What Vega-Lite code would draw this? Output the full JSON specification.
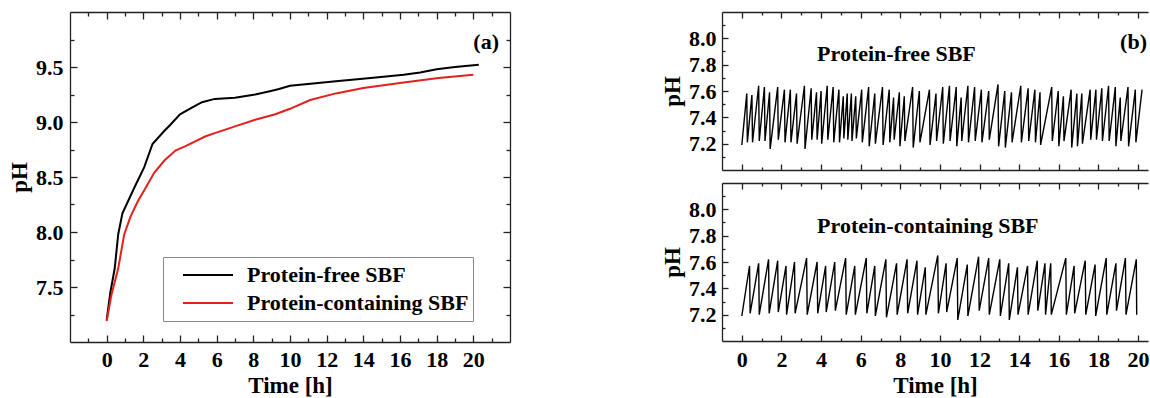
{
  "$schema": "https://vega.github.io/schema/vega-lite/v6.json",
  "padding": {"left": 8, "top": 11, "right": 0, "bottom": 0},
  "datasets": {
    "left": [
      {"series": "Protein-free SBF", "t": 0, "pH": 7.2},
      {"series": "Protein-free SBF", "t": 0.2, "pH": 7.45},
      {"series": "Protein-free SBF", "t": 0.44, "pH": 7.67},
      {"series": "Protein-free SBF", "t": 0.63, "pH": 7.98},
      {"series": "Protein-free SBF", "t": 0.86, "pH": 8.17},
      {"series": "Protein-free SBF", "t": 1.5, "pH": 8.4},
      {"series": "Protein-free SBF", "t": 2.05, "pH": 8.59},
      {"series": "Protein-free SBF", "t": 2.5, "pH": 8.8},
      {"series": "Protein-free SBF", "t": 3.15, "pH": 8.92},
      {"series": "Protein-free SBF", "t": 3.45, "pH": 8.97},
      {"series": "Protein-free SBF", "t": 4.0, "pH": 9.07},
      {"series": "Protein-free SBF", "t": 4.65, "pH": 9.13},
      {"series": "Protein-free SBF", "t": 5.2, "pH": 9.18},
      {"series": "Protein-free SBF", "t": 5.9, "pH": 9.21},
      {"series": "Protein-free SBF", "t": 7.0, "pH": 9.22},
      {"series": "Protein-free SBF", "t": 8.1, "pH": 9.25},
      {"series": "Protein-free SBF", "t": 8.9, "pH": 9.28},
      {"series": "Protein-free SBF", "t": 9.4, "pH": 9.3},
      {"series": "Protein-free SBF", "t": 10.0, "pH": 9.33},
      {"series": "Protein-free SBF", "t": 10.7, "pH": 9.34},
      {"series": "Protein-free SBF", "t": 12.5, "pH": 9.37},
      {"series": "Protein-free SBF", "t": 14.4, "pH": 9.4},
      {"series": "Protein-free SBF", "t": 16.2, "pH": 9.43},
      {"series": "Protein-free SBF", "t": 17.1, "pH": 9.45},
      {"series": "Protein-free SBF", "t": 18.0, "pH": 9.48},
      {"series": "Protein-free SBF", "t": 19.0, "pH": 9.5},
      {"series": "Protein-free SBF", "t": 20.3, "pH": 9.52},
      {"series": "Protein-containing SBF", "t": 0, "pH": 7.19},
      {"series": "Protein-containing SBF", "t": 0.25, "pH": 7.42},
      {"series": "Protein-containing SBF", "t": 0.63, "pH": 7.67},
      {"series": "Protein-containing SBF", "t": 0.96, "pH": 7.98},
      {"series": "Protein-containing SBF", "t": 1.3, "pH": 8.14},
      {"series": "Protein-containing SBF", "t": 1.7, "pH": 8.28},
      {"series": "Protein-containing SBF", "t": 2.05, "pH": 8.38},
      {"series": "Protein-containing SBF", "t": 2.6, "pH": 8.54},
      {"series": "Protein-containing SBF", "t": 3.15, "pH": 8.65},
      {"series": "Protein-containing SBF", "t": 3.75, "pH": 8.74},
      {"series": "Protein-containing SBF", "t": 4.3, "pH": 8.78},
      {"series": "Protein-containing SBF", "t": 5.4, "pH": 8.87},
      {"series": "Protein-containing SBF", "t": 6.1, "pH": 8.91},
      {"series": "Protein-containing SBF", "t": 7.0, "pH": 8.96},
      {"series": "Protein-containing SBF", "t": 8.1, "pH": 9.02},
      {"series": "Protein-containing SBF", "t": 9.2, "pH": 9.07},
      {"series": "Protein-containing SBF", "t": 10.0, "pH": 9.12},
      {"series": "Protein-containing SBF", "t": 11.1, "pH": 9.2},
      {"series": "Protein-containing SBF", "t": 12.5, "pH": 9.26},
      {"series": "Protein-containing SBF", "t": 14.0, "pH": 9.31},
      {"series": "Protein-containing SBF", "t": 16.2, "pH": 9.36},
      {"series": "Protein-containing SBF", "t": 18.1, "pH": 9.4},
      {"series": "Protein-containing SBF", "t": 20.0, "pH": 9.43}
    ],
    "free": [
      {"t": 0, "pH": 7.19},
      {"t": 0.25, "pH": 7.58}, {"t": 0.28, "pH": 7.21},
      {"t": 0.51, "pH": 7.57}, {"t": 0.54, "pH": 7.21},
      {"t": 0.85, "pH": 7.64}, {"t": 0.88, "pH": 7.22},
      {"t": 1.14, "pH": 7.63}, {"t": 1.17, "pH": 7.22},
      {"t": 1.40, "pH": 7.59}, {"t": 1.43, "pH": 7.16},
      {"t": 1.81, "pH": 7.63}, {"t": 1.84, "pH": 7.23},
      {"t": 2.15, "pH": 7.61}, {"t": 2.18, "pH": 7.21},
      {"t": 2.45, "pH": 7.61}, {"t": 2.48, "pH": 7.21},
      {"t": 2.76, "pH": 7.58}, {"t": 2.79, "pH": 7.20},
      {"t": 3.16, "pH": 7.64}, {"t": 3.19, "pH": 7.16},
      {"t": 3.50, "pH": 7.62}, {"t": 3.53, "pH": 7.23},
      {"t": 3.77, "pH": 7.59}, {"t": 3.80, "pH": 7.23},
      {"t": 4.00, "pH": 7.60}, {"t": 4.03, "pH": 7.20},
      {"t": 4.31, "pH": 7.64}, {"t": 4.34, "pH": 7.23},
      {"t": 4.61, "pH": 7.63}, {"t": 4.64, "pH": 7.21},
      {"t": 4.90, "pH": 7.61}, {"t": 4.93, "pH": 7.21},
      {"t": 5.12, "pH": 7.56}, {"t": 5.15, "pH": 7.24},
      {"t": 5.32, "pH": 7.58}, {"t": 5.35, "pH": 7.23},
      {"t": 5.53, "pH": 7.58}, {"t": 5.56, "pH": 7.22},
      {"t": 5.75, "pH": 7.56}, {"t": 5.78, "pH": 7.24},
      {"t": 6.05, "pH": 7.61}, {"t": 6.08, "pH": 7.21},
      {"t": 6.40, "pH": 7.63}, {"t": 6.43, "pH": 7.18},
      {"t": 6.71, "pH": 7.58}, {"t": 6.74, "pH": 7.20},
      {"t": 7.10, "pH": 7.63}, {"t": 7.13, "pH": 7.19},
      {"t": 7.44, "pH": 7.61}, {"t": 7.47, "pH": 7.21},
      {"t": 7.66, "pH": 7.55}, {"t": 7.69, "pH": 7.23},
      {"t": 7.95, "pH": 7.59}, {"t": 7.98, "pH": 7.18},
      {"t": 8.20, "pH": 7.56}, {"t": 8.23, "pH": 7.22},
      {"t": 8.62, "pH": 7.63}, {"t": 8.65, "pH": 7.17},
      {"t": 8.96, "pH": 7.60}, {"t": 8.99, "pH": 7.21},
      {"t": 9.47, "pH": 7.61}, {"t": 9.50, "pH": 7.19},
      {"t": 9.80, "pH": 7.58}, {"t": 9.83, "pH": 7.22},
      {"t": 10.14, "pH": 7.63}, {"t": 10.17, "pH": 7.20},
      {"t": 10.48, "pH": 7.64}, {"t": 10.51, "pH": 7.22},
      {"t": 10.82, "pH": 7.63}, {"t": 10.85, "pH": 7.18},
      {"t": 11.07, "pH": 7.55}, {"t": 11.10, "pH": 7.22},
      {"t": 11.41, "pH": 7.64}, {"t": 11.44, "pH": 7.21},
      {"t": 11.75, "pH": 7.63}, {"t": 11.78, "pH": 7.22},
      {"t": 12.09, "pH": 7.61}, {"t": 12.12, "pH": 7.21},
      {"t": 12.46, "pH": 7.60}, {"t": 12.49, "pH": 7.23},
      {"t": 12.93, "pH": 7.65}, {"t": 12.96, "pH": 7.18},
      {"t": 13.27, "pH": 7.60}, {"t": 13.30, "pH": 7.17},
      {"t": 13.61, "pH": 7.59}, {"t": 13.64, "pH": 7.21},
      {"t": 14.08, "pH": 7.64}, {"t": 14.11, "pH": 7.21},
      {"t": 14.45, "pH": 7.62}, {"t": 14.48, "pH": 7.22},
      {"t": 14.79, "pH": 7.61}, {"t": 14.82, "pH": 7.21},
      {"t": 15.05, "pH": 7.59}, {"t": 15.08, "pH": 7.19},
      {"t": 15.64, "pH": 7.63}, {"t": 15.67, "pH": 7.22},
      {"t": 15.97, "pH": 7.60}, {"t": 16.00, "pH": 7.18},
      {"t": 16.23, "pH": 7.56}, {"t": 16.26, "pH": 7.22},
      {"t": 16.62, "pH": 7.61}, {"t": 16.65, "pH": 7.17},
      {"t": 16.91, "pH": 7.58}, {"t": 16.94, "pH": 7.18},
      {"t": 17.16, "pH": 7.58}, {"t": 17.19, "pH": 7.20},
      {"t": 17.58, "pH": 7.61}, {"t": 17.61, "pH": 7.23},
      {"t": 17.87, "pH": 7.61}, {"t": 17.90, "pH": 7.23},
      {"t": 18.17, "pH": 7.62}, {"t": 18.20, "pH": 7.22},
      {"t": 18.51, "pH": 7.64}, {"t": 18.54, "pH": 7.22},
      {"t": 18.85, "pH": 7.63}, {"t": 18.88, "pH": 7.18},
      {"t": 19.10, "pH": 7.55}, {"t": 19.13, "pH": 7.22},
      {"t": 19.49, "pH": 7.63}, {"t": 19.52, "pH": 7.18},
      {"t": 19.86, "pH": 7.61}, {"t": 19.89, "pH": 7.21},
      {"t": 20.20, "pH": 7.61}
    ],
    "prot": [
      {"t": 0, "pH": 7.19},
      {"t": 0.39, "pH": 7.57}, {"t": 0.42, "pH": 7.21},
      {"t": 0.85, "pH": 7.59}, {"t": 0.88, "pH": 7.20},
      {"t": 1.35, "pH": 7.62}, {"t": 1.38, "pH": 7.21},
      {"t": 1.81, "pH": 7.61}, {"t": 1.84, "pH": 7.22},
      {"t": 2.23, "pH": 7.57}, {"t": 2.26, "pH": 7.20},
      {"t": 2.66, "pH": 7.60}, {"t": 2.69, "pH": 7.21},
      {"t": 3.27, "pH": 7.63}, {"t": 3.30, "pH": 7.20},
      {"t": 3.80, "pH": 7.60}, {"t": 3.83, "pH": 7.21},
      {"t": 4.23, "pH": 7.57}, {"t": 4.26, "pH": 7.22},
      {"t": 4.69, "pH": 7.60}, {"t": 4.72, "pH": 7.23},
      {"t": 5.24, "pH": 7.63}, {"t": 5.27, "pH": 7.20},
      {"t": 5.70, "pH": 7.57}, {"t": 5.73, "pH": 7.20},
      {"t": 6.28, "pH": 7.63}, {"t": 6.31, "pH": 7.21},
      {"t": 6.71, "pH": 7.57}, {"t": 6.74, "pH": 7.19},
      {"t": 7.27, "pH": 7.62}, {"t": 7.30, "pH": 7.18},
      {"t": 7.81, "pH": 7.59}, {"t": 7.84, "pH": 7.20},
      {"t": 8.34, "pH": 7.62}, {"t": 8.37, "pH": 7.21},
      {"t": 8.84, "pH": 7.61}, {"t": 8.87, "pH": 7.20},
      {"t": 9.26, "pH": 7.56}, {"t": 9.29, "pH": 7.20},
      {"t": 9.89, "pH": 7.65}, {"t": 9.92, "pH": 7.21},
      {"t": 10.31, "pH": 7.59}, {"t": 10.34, "pH": 7.22},
      {"t": 10.87, "pH": 7.63}, {"t": 10.90, "pH": 7.16},
      {"t": 11.38, "pH": 7.58}, {"t": 11.41, "pH": 7.19},
      {"t": 11.95, "pH": 7.64}, {"t": 11.98, "pH": 7.23},
      {"t": 12.46, "pH": 7.63}, {"t": 12.49, "pH": 7.20},
      {"t": 13.02, "pH": 7.62}, {"t": 13.05, "pH": 7.19},
      {"t": 13.47, "pH": 7.59}, {"t": 13.50, "pH": 7.16},
      {"t": 13.91, "pH": 7.56}, {"t": 13.94, "pH": 7.20},
      {"t": 14.42, "pH": 7.57}, {"t": 14.45, "pH": 7.20},
      {"t": 14.91, "pH": 7.61}, {"t": 14.94, "pH": 7.23},
      {"t": 15.30, "pH": 7.59}, {"t": 15.33, "pH": 7.20},
      {"t": 15.59, "pH": 7.59}, {"t": 15.62, "pH": 7.20},
      {"t": 16.35, "pH": 7.63}, {"t": 16.38, "pH": 7.20},
      {"t": 16.77, "pH": 7.57}, {"t": 16.80, "pH": 7.21},
      {"t": 17.33, "pH": 7.61}, {"t": 17.36, "pH": 7.20},
      {"t": 17.83, "pH": 7.58}, {"t": 17.86, "pH": 7.19},
      {"t": 18.39, "pH": 7.63}, {"t": 18.42, "pH": 7.20},
      {"t": 18.88, "pH": 7.59}, {"t": 18.91, "pH": 7.23},
      {"t": 19.36, "pH": 7.63}, {"t": 19.39, "pH": 7.20},
      {"t": 19.91, "pH": 7.62}, {"t": 19.93, "pH": 7.20}
    ],
    "one": [{"n": 1}]
  },
  "bounds": "flush",
  "spacing": 212,
  "hconcat": [
    {
      "width": 440,
      "height": 330,
      "data": {"name": "left"},
      "layer": [
        {
          "mark": {"type": "line", "strokeWidth": 2},
          "encoding": {
            "x": {"field": "t", "type": "quantitative", "scale": {"domain": [-2, 22], "nice": false, "zero": false},
              "axis": {"orient": "bottom", "values": [0, 2, 4, 6, 8, 10, 12, 14, 16, 18, 20], "tickSize": -7, "labelPadding": 14, "labelOverlap": false, "labelFlush": false, "title": "Time [h]", "titlePadding": 4}},
            "y": {"field": "pH", "type": "quantitative", "scale": {"domain": [7, 10], "nice": false, "zero": false},
              "axis": {"orient": "left", "values": [7.5, 8, 8.5, 9, 9.5], "format": ".1f", "tickSize": -7, "labelPadding": 14, "labelOverlap": false, "title": "pH", "titlePadding": 4}},
            "color": {"field": "series", "type": "nominal",
              "scale": {"domain": ["Protein-free SBF", "Protein-containing SBF"], "range": ["#000000", "#e3201b"]},
              "legend": {"orient": "none", "legendX": 93, "legendY": 245, "title": null, "symbolType": "stroke", "symbolSize": 2500, "symbolStrokeWidth": 2, "clipHeight": 28, "padding": 4, "rowPadding": 0, "symbolOffset": 15, "labelOffset": 13, "labelFontSize": 22, "labelFont": "Liberation Serif", "labelFontWeight": "bold", "labelColor": "black", "labelLimit": 400, "strokeColor": "#888888", "fillColor": "white"}}
          }
        },
        {
          "mark": {"type": "line", "opacity": 0},
          "encoding": {
            "x": {"field": "t", "type": "quantitative", "scale": {"domain": [-2, 22], "nice": false, "zero": false},
              "axis": {"orient": "top", "values": [0, 2, 4, 6, 8, 10, 12, 14, 16, 18, 20], "tickSize": -7, "labels": false, "title": null}},
            "y": {"field": "pH", "type": "quantitative", "scale": {"domain": [7, 10], "nice": false, "zero": false},
              "axis": {"orient": "right", "values": [7.5, 8, 8.5, 9, 9.5], "tickSize": -7, "labels": false, "title": null}}
          }
        },
        {
          "mark": {"type": "line", "opacity": 0},
          "encoding": {
            "x": {"field": "t", "type": "quantitative", "scale": {"domain": [-2, 22], "nice": false, "zero": false},
              "axis": {"orient": "bottom", "values": [-1, 1, 3, 5, 7, 9, 11, 13, 15, 17, 19, 21], "tickSize": -4, "labels": false, "domain": false, "title": null}},
            "y": {"field": "pH", "type": "quantitative", "scale": {"domain": [7, 10], "nice": false, "zero": false},
              "axis": {"orient": "left", "values": [7.25, 7.75, 8.25, 8.75, 9.25, 9.75], "tickSize": -4, "labels": false, "domain": false, "title": null}}
          }
        },
        {
          "mark": {"type": "line", "opacity": 0},
          "encoding": {
            "x": {"field": "t", "type": "quantitative", "scale": {"domain": [-2, 22], "nice": false, "zero": false},
              "axis": {"orient": "top", "values": [-1, 1, 3, 5, 7, 9, 11, 13, 15, 17, 19, 21], "tickSize": -4, "labels": false, "domain": false, "title": null}},
            "y": {"field": "pH", "type": "quantitative", "scale": {"domain": [7, 10], "nice": false, "zero": false},
              "axis": {"orient": "right", "values": [7.25, 7.75, 8.25, 8.75, 9.25, 9.75], "tickSize": -4, "labels": false, "domain": false, "title": null}}
          }
        },
        {
          "data": {"name": "one"},
          "mark": {"type": "text", "text": "(a)", "align": "left", "baseline": "middle", "fontSize": 22, "fontWeight": "bold", "font": "Liberation Serif", "color": "black"},
          "encoding": {
            "x": {"datum": 20.0, "type": "quantitative", "scale": {"domain": [-2, 22], "nice": false, "zero": false}, "axis": null},
            "y": {"datum": 9.725, "type": "quantitative", "scale": {"domain": [7, 10], "nice": false, "zero": false}, "axis": null}
          }
        }
      ],
      "resolve": {"axis": {"x": "independent", "y": "independent"}}
    },
    {
      "bounds": "flush",
      "spacing": 13,
      "vconcat": [
        {
          "width": 426,
          "height": 158,
          "data": {"name": "free"},
          "layer": [
            {
              "mark": {"type": "line", "color": "black", "strokeWidth": 1.4},
              "encoding": {
                "x": {"field": "t", "type": "quantitative", "scale": {"domain": [-1, 20.5], "nice": false, "zero": false},
                  "axis": {"orient": "bottom", "values": [0, 2, 4, 6, 8, 10, 12, 14, 16, 18, 20], "tickSize": -6, "labels": false, "title": null}},
                "y": {"field": "pH", "type": "quantitative", "scale": {"domain": [7.0, 8.2], "nice": false, "zero": false},
                  "axis": {"orient": "left", "values": [7.2, 7.4, 7.6, 7.8, 8.0], "format": ".1f", "tickSize": -6, "labelPadding": 12, "labelOverlap": false, "title": "pH", "titlePadding": 4}}
              }
            },
            {
              "mark": {"type": "line", "opacity": 0},
              "encoding": {
                "x": {"field": "t", "type": "quantitative", "scale": {"domain": [-1, 20.5], "nice": false, "zero": false},
                  "axis": {"orient": "top", "values": [0, 2, 4, 6, 8, 10, 12, 14, 16, 18, 20], "tickSize": -6, "labels": false, "title": null}},
                "y": {"field": "pH", "type": "quantitative", "scale": {"domain": [7.0, 8.2], "nice": false, "zero": false},
                  "axis": {"orient": "left", "values": [7.1, 7.3, 7.5, 7.7, 7.9, 8.1], "tickSize": -3, "labels": false, "domain": false, "title": null}}
              }
            },
            {
              "mark": {"type": "line", "opacity": 0},
              "encoding": {
                "x": {"field": "t", "type": "quantitative", "scale": {"domain": [-1, 20.5], "nice": false, "zero": false},
                  "axis": {"orient": "bottom", "values": [1, 3, 5, 7, 9, 11, 13, 15, 17, 19], "tickSize": -3, "labels": false, "domain": false, "title": null}},
                "y": {"field": "pH", "type": "quantitative", "scale": {"domain": [7.0, 8.2], "nice": false, "zero": false}, "axis": null}
              }
            },
            {
              "mark": {"type": "line", "opacity": 0},
              "encoding": {
                "x": {"field": "t", "type": "quantitative", "scale": {"domain": [-1, 20.5], "nice": false, "zero": false},
                  "axis": {"orient": "top", "values": [1, 3, 5, 7, 9, 11, 13, 15, 17, 19], "tickSize": -3, "labels": false, "domain": false, "title": null}},
                "y": {"field": "pH", "type": "quantitative", "scale": {"domain": [7.0, 8.2], "nice": false, "zero": false}, "axis": null}
              }
            },
            {
              "data": {"name": "one"},
              "mark": {"type": "text", "text": "Protein-free SBF", "align": "left", "baseline": "middle", "fontSize": 22, "fontWeight": "bold", "font": "Liberation Serif", "color": "black"},
              "encoding": {
                "x": {"datum": 3.8, "type": "quantitative", "scale": {"domain": [-1, 20.5], "nice": false, "zero": false}, "axis": null},
                "y": {"datum": 7.88, "type": "quantitative", "scale": {"domain": [7.0, 8.2], "nice": false, "zero": false}, "axis": null}
              }
            },
            {
              "data": {"name": "one"},
              "mark": {"type": "text", "text": "(b)", "align": "right", "baseline": "middle", "fontSize": 22, "fontWeight": "bold", "font": "Liberation Serif", "color": "black"},
              "encoding": {
                "x": {"datum": 20.45, "type": "quantitative", "scale": {"domain": [-1, 20.5], "nice": false, "zero": false}, "axis": null},
                "y": {"datum": 7.97, "type": "quantitative", "scale": {"domain": [7.0, 8.2], "nice": false, "zero": false}, "axis": null}
              }
            }
          ],
          "resolve": {"axis": {"x": "independent", "y": "independent"}}
        },
        {
          "width": 426,
          "height": 158,
          "data": {"name": "prot"},
          "layer": [
            {
              "mark": {"type": "line", "color": "black", "strokeWidth": 1.4},
              "encoding": {
                "x": {"field": "t", "type": "quantitative", "scale": {"domain": [-1, 20.5], "nice": false, "zero": false},
                  "axis": {"orient": "bottom", "values": [0, 2, 4, 6, 8, 10, 12, 14, 16, 18, 20], "tickSize": -6, "labelPadding": 14, "labelOverlap": false, "labelFlush": false, "title": "Time [h]", "titlePadding": 4}},
                "y": {"field": "pH", "type": "quantitative", "scale": {"domain": [7.0, 8.2], "nice": false, "zero": false},
                  "axis": {"orient": "left", "values": [7.2, 7.4, 7.6, 7.8, 8.0], "format": ".1f", "tickSize": -6, "labelPadding": 12, "labelOverlap": false, "title": "pH", "titlePadding": 4}}
              }
            },
            {
              "mark": {"type": "line", "opacity": 0},
              "encoding": {
                "x": {"field": "t", "type": "quantitative", "scale": {"domain": [-1, 20.5], "nice": false, "zero": false},
                  "axis": {"orient": "top", "values": [0, 2, 4, 6, 8, 10, 12, 14, 16, 18, 20], "tickSize": -6, "labels": false, "title": null}},
                "y": {"field": "pH", "type": "quantitative", "scale": {"domain": [7.0, 8.2], "nice": false, "zero": false},
                  "axis": {"orient": "left", "values": [7.1, 7.3, 7.5, 7.7, 7.9, 8.1], "tickSize": -3, "labels": false, "domain": false, "title": null}}
              }
            },
            {
              "mark": {"type": "line", "opacity": 0},
              "encoding": {
                "x": {"field": "t", "type": "quantitative", "scale": {"domain": [-1, 20.5], "nice": false, "zero": false},
                  "axis": {"orient": "bottom", "values": [1, 3, 5, 7, 9, 11, 13, 15, 17, 19], "tickSize": -3, "labels": false, "domain": false, "title": null}},
                "y": {"field": "pH", "type": "quantitative", "scale": {"domain": [7.0, 8.2], "nice": false, "zero": false}, "axis": null}
              }
            },
            {
              "mark": {"type": "line", "opacity": 0},
              "encoding": {
                "x": {"field": "t", "type": "quantitative", "scale": {"domain": [-1, 20.5], "nice": false, "zero": false},
                  "axis": {"orient": "top", "values": [1, 3, 5, 7, 9, 11, 13, 15, 17, 19], "tickSize": -3, "labels": false, "domain": false, "title": null}},
                "y": {"field": "pH", "type": "quantitative", "scale": {"domain": [7.0, 8.2], "nice": false, "zero": false}, "axis": null}
              }
            },
            {
              "data": {"name": "one"},
              "mark": {"type": "text", "text": "Protein-containing SBF", "align": "left", "baseline": "middle", "fontSize": 22, "fontWeight": "bold", "font": "Liberation Serif", "color": "black"},
              "encoding": {
                "x": {"datum": 3.8, "type": "quantitative", "scale": {"domain": [-1, 20.5], "nice": false, "zero": false}, "axis": null},
                "y": {"datum": 7.87, "type": "quantitative", "scale": {"domain": [7.0, 8.2], "nice": false, "zero": false}, "axis": null}
              }
            }
          ],
          "resolve": {"axis": {"x": "independent", "y": "independent"}}
        }
      ]
    }
  ],
  "config": {
    "font": "Liberation Serif",
    "view": {"stroke": null},
    "axis": {
      "grid": false,
      "domainColor": "#222222",
      "domainWidth": 1.3,
      "tickColor": "#222222",
      "tickWidth": 1.3,
      "labelFont": "Liberation Serif",
      "labelFontSize": 22,
      "labelFontWeight": "bold",
      "labelColor": "black",
      "titleFont": "Liberation Serif",
      "titleFontSize": 23,
      "titleFontWeight": "bold",
      "titleColor": "black"
    }
  }
}
